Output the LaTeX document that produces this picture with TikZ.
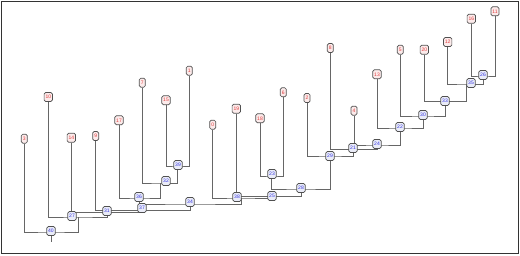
\documentclass[tikz,border=0pt]{standalone}
\usepackage{fontspec}
\setmainfont{Liberation Sans}
\usetikzlibrary{backgrounds}
\definecolor{boxline}{HTML}{505050}
\definecolor{leaffill}{HTML}{FCEBEB}
\definecolor{leaftext}{HTML}{E03C3C}
\definecolor{innerfill}{HTML}{EAECF8}
\definecolor{innertext}{HTML}{3434E0}
\definecolor{linecol}{HTML}{666666}
\begin{document}
\begin{tikzpicture}[x=1pt,y=-1pt,
  boxbase/.style={draw=boxline, rounded corners=1.5pt, line width=0.7pt, inner xsep=1.4pt, inner ysep=0pt, minimum height=9pt, minimum width=6pt, font=\fontsize{5}{5}\selectfont},
  leaf/.style={boxbase, fill=leaffill, text=leaftext},
  inner/.style={boxbase, fill=innerfill, text=innertext},
  link/.style={draw=linecol, line width=0.9pt}]
\useasboundingbox (0,0) rectangle (520,255);
\draw[line width=0.8pt, draw=black!80] (1.5,1.5) rectangle (518.5,253.5);
% leaves
\node[leaf] (l3)  at (24.3,138.7) {3};
\node[leaf] (l10) at (48.3,97) {10};
\node[leaf] (l14) at (71.3,137.7) {14};
\node[leaf] (l9)  at (95.7,136) {9};
\node[leaf] (l17) at (119,120.3) {17};
\node[leaf] (l7)  at (142.3,82.7) {7};
\node[leaf] (l15) at (166,100.3) {15};
\node[leaf] (l1)  at (189.3,70.7) {1};
\node[leaf] (l0)  at (212.7,124.7) {0};
\node[leaf] (l19) at (236.3,108.7) {19};
\node[leaf] (l18) at (260,118.3) {18};
\node[leaf] (l6)  at (283.3,92.3) {6};
\node[leaf] (l2)  at (307,98) {2};
\node[leaf] (l8)  at (330.3,48) {8};
\node[leaf] (l4)  at (354,110.7) {4};
\node[leaf] (l13) at (377,74.3) {13};
\node[leaf] (l5)  at (400.3,49.7) {5};
\node[leaf] (l20) at (424.3,49.7) {20};
\node[leaf] (l12) at (447.7,42) {12};
\node[leaf] (l16) at (471.3,18.7) {16};
\node[leaf] (l11) at (495,11.3) {11};
% junctions
\coordinate (jF) at (177.5,166);
\coordinate (jE) at (160,183);
\coordinate (jD) at (139.5,198);
\coordinate (jW) at (190,204);
\coordinate (jC) at (143,210.5);
\coordinate (jB) at (107.5,212.5);
\coordinate (jA) at (78,217);
\coordinate (jR) at (51,232);
\coordinate (stem) at (51,242);
\coordinate (jX20) at (483.2,76);
\coordinate (jX19) at (466,84);
\coordinate (jX18) at (445.5,101.5);
\coordinate (jX17) at (423,116);
\coordinate (jX16) at (400.5,128);
\coordinate (jX15) at (377,145);
\coordinate (jX14) at (353.5,149.5);
\coordinate (jX13) at (330,156);
\coordinate (jY) at (271.7,176);
\coordinate (jX12) at (301,189);
\coordinate (jZ2) at (269,196.5);
\coordinate (jZ1) at (241,198);
% internal nodes
\node[inner] (nR) at (51,231) {40};
\node[inner] (nA) at (72,216) {27};
\node[inner] (nB) at (107,211) {31};
\node[inner] (nC) at (142,208) {37};
\node[inner] (nD) at (139,197) {36};
\node[inner] (nE) at (166,181) {32};
\node[inner] (nF) at (178,165) {39};
\node[inner] (nW) at (190,202) {34};
\node[inner] (nZ1) at (237,197) {38};
\node[inner] (nZ2) at (272,196) {25};
\node[inner] (nY) at (272,174) {23};
\node[inner] (nX12) at (301,188) {28};
\node[inner] (nX13) at (330,156) {29};
\node[inner] (nX14) at (353,148) {21};
\node[inner] (nX15) at (377,144) {24};
\node[inner] (nX16) at (400,127) {22};
\node[inner] (nX17) at (423,115) {30};
\node[inner] (nX18) at (445,101) {33};
\node[inner] (nX19) at (471,83) {35};
\node[inner] (nX20) at (483,75) {26};
\begin{pgfonlayer}{background}
\fill[white] (0,0) rectangle (520,255);
\draw[link] (l15.south) |- (jF) -| (l1.south);
\draw[link] (l7.south) |- (jE) -| (jF);
\draw[link] (l17.south) |- (jD) -| (jE);
\draw[link] (jD) |- (jW) -| (jZ1);
\draw[link] (l9.south) |- (jC) -| (jW);
\draw[link] (l14.south) |- (jB) -| (jC);
\draw[link] (l10.south) |- (jA) -| (jB);
\draw[link] (l3.south) |- (jR) -| (jA);
\draw[link] (jR) -- (stem);
\draw[link] (l16.south) |- (jX20) -| (l11.south);
\draw[link] (l12.south) |- (jX19) -| (jX20);
\draw[link] (l20.south) |- (jX18) -| (jX19);
\draw[link] (l5.south) |- (jX17) -| (jX18);
\draw[link] (l13.south) |- (jX16) -| (jX17);
\draw[link] (l4.south) |- (jX15) -| (jX16);
\draw[link] (l8.south) |- (jX14) -| (jX15);
\draw[link] (l2.south) |- (jX13) -| (jX14);
\draw[link] (l18.south) |- (jY) -| (l6.south);
\draw[link] (jY) |- (jX12) -| (jX13);
\draw[link] (l19.south) |- (jZ2) -| (jX12);
\draw[link] (l0.south) |- (jZ1) -| (jZ2);
\end{pgfonlayer}
\end{tikzpicture}
\end{document}
